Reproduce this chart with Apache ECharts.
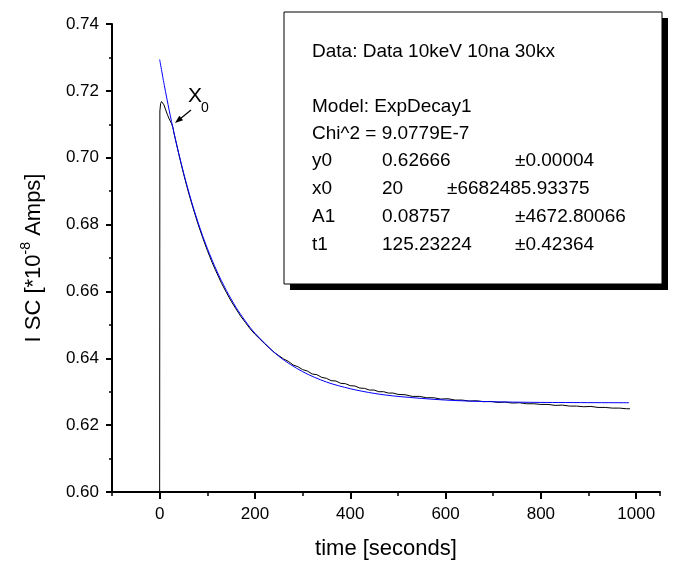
<!DOCTYPE html>
<html>
<head>
<meta charset="utf-8">
<script src="https://cdn.jsdelivr.net/npm/echarts@6/dist/echarts.min.js"></script>
<style>
  html,body{margin:0;padding:0;background:#fff;}
  #chart{width:674px;height:572px;}
</style>
</head>
<body>
<div id="chart"></div>
<script>
const dataTime = [0,0.5,2,4,6,9,12,16,20,25,28,30,35,40,45,50,60,70,80,90,100,110,120,130,140,150,160,170,180,190,200,
  210,220,230,240,250,260,270,280,290,300,310,320,330,340,350,360,370,380,390,400,410,420,430,440,450,460,470,480,490,500,
  515,530,545,560,575,590,605,620,635,650,665,680,695,710,725,740,755,770,785,800,815,830,845,860,875,890,905,920,935,950,965,980,987];
const dataValue = [0.600,0.7140,0.7162,0.7168,0.7167,0.7158,0.7146,0.7130,0.7116,0.7102,0.7090,0.7074,0.7043,0.7012,0.6982,0.6953,0.6899,0.6850,0.6804,0.6762,0.6723,0.6687,0.6655,0.6624,0.6597,0.6571,0.6548,0.6526,0.6507,0.6488,0.6472,
  0.6458,0.6444,0.6431,0.6418,0.6408,0.6398,0.6391,0.6380,0.6375,0.6366,0.6362,0.6353,0.6351,0.6343,0.6340,0.6333,0.6332,0.6325,0.6324,0.6318,0.6317,0.6311,0.6310,0.6305,0.6305,0.6300,0.6300,0.6296,0.6296,0.6292,
  0.6291,0.6286,0.6286,0.6282,0.6282,0.6278,0.6279,0.6275,0.6275,0.6272,0.6273,0.6270,0.6271,0.6268,0.6269,0.6266,0.6267,0.6264,0.6264,0.6262,0.6262,0.6259,0.6260,0.6257,0.6257,0.6255,0.6256,0.6253,0.6253,0.6251,0.6251,0.6249,0.6249];

// ExpDecay1 fit curve
const fitTime  = [0,10,20,30,40,50,60,70,80,90,100,120,140,160,180,200,250,300,350,400,450,500,600,700,800,985];
const fitValue = [0.7294,0.7215,0.7142,0.7075,0.7013,0.6956,0.6903,0.6854,0.6809,0.6767,0.6729,0.6661,0.6603,0.6553,0.6511,0.6475,0.6406,0.6360,0.6329,0.6309,0.6295,0.6286,0.6275,0.6270,0.6268,0.6267];

const xLabelValues = [0,200,400,600,800,1000];
const fitLines = [
  ['Data: Data 10keV 10na 30kx'],
  ['Model: ExpDecay1'],
  ['Chi^2 = 9.0779E-7'],
  ['y0','0.62666','±0.00004'],
  ['x0','20','±6682485.93375'],
  ['A1','0.08757','±4672.80066'],
  ['t1','125.23224','±0.42364']
];

const FONT = '"Liberation Sans", Arial, sans-serif';
const chart = echarts.init(document.getElementById('chart'));

// text box lines (pixel layout of the annotation)
const lineY = [52,107,134,161,189,217,245];
const colX = [312,382,515];
function boxText(str,x,y){
  return {type:'text',x:x,y:y,z:12,style:{text:str,font:'19px '+FONT,fill:'#000',textVerticalAlign:'middle',verticalAlign:'middle'}};
}
const boxTexts = [];
fitLines.forEach((row,i)=>{
  boxTexts.push(boxText(row[0],colX[0],lineY[i]));
  if(row.length>1){
    boxTexts.push(boxText(row[1],colX[1],lineY[i]));
    boxTexts.push(boxText(row[2],row[0]==='x0'?447:colX[2],lineY[i]));
  }
});

chart.setOption({
  animation:false,
  backgroundColor:'#fff',
  grid:{left:112,right:14,top:24,bottom:80},
  xAxis:[{
    type:'value',min:-100,max:1050,interval:100,
    name:'time [seconds]',nameLocation:'middle',nameGap:46,
    nameTextStyle:{fontFamily:FONT,fontSize:22,color:'#000'},
    axisLine:{show:true,onZero:false,lineStyle:{color:'#000',width:2}},
    axisTick:{show:true,length:4,lineStyle:{color:'#000',width:1.5}},
    axisLabel:{margin:14,fontFamily:FONT,fontSize:17,color:'#000',
      formatter:v=>xLabelValues.includes(Math.round(v))?String(Math.round(v)):''},
    splitLine:{show:false}
  },{
    type:'value',min:-100,max:1050,position:'bottom',
    axisLine:{show:false,onZero:false},
    axisTick:{show:true,length:7,customValues:xLabelValues,lineStyle:{color:'#000',width:2}},
    axisLabel:{show:false},
    splitLine:{show:false}
  }],
  yAxis:{
    type:'value',min:0.60,max:0.74,interval:0.02,
    name:'{n|I SC [*10}{s|-8}{n| Amps]}',nameLocation:'middle',nameGap:63,nameRotate:90,
    nameTextStyle:{fontFamily:FONT,fontSize:22,color:'#000',
      rich:{n:{fontFamily:FONT,fontSize:22,color:'#000',lineHeight:30},
            s:{fontFamily:FONT,fontSize:14,color:'#000',verticalAlign:'top'}}},
    axisLine:{show:true,onZero:false,lineStyle:{color:'#000',width:2}},
    axisTick:{show:true,length:6,lineStyle:{color:'#000',width:2}},
    minorTick:{show:true,splitNumber:2,length:3,lineStyle:{color:'#000',width:1.5}},
    axisLabel:{margin:13,fontFamily:FONT,fontSize:17,color:'#000',formatter:v=>v.toFixed(2)},
    splitLine:{show:false}
  },
  series:[{
    type:'line',showSymbol:false,symbol:'none',
    data:dataTime.map((t,i)=>[t,dataValue[i]]),
    lineStyle:{color:'#000',width:1},
    z:2
  },{
    type:'line',showSymbol:false,symbol:'none',smooth:0.3,
    data:fitTime.map((t,i)=>[t,fitValue[i]]),
    lineStyle:{color:'#0000ff',width:1},
    z:3
  }],
  graphic:[
    {type:'rect',shape:{x:290,y:18,width:378,height:272},style:{fill:'#000'},z:10},
    {type:'rect',shape:{x:284,y:12,width:378,height:272},style:{fill:'#fff',stroke:'#000',lineWidth:1},z:11},
    ...boxTexts,
    {type:'text',x:188,y:86,z:12,style:{text:'X',font:'21px '+FONT,fill:'#000'}},
    {type:'text',x:201,y:101,z:12,style:{text:'0',font:'14px '+FONT,fill:'#000'}},
    {type:'line',z:12,shape:{x1:191,y1:110,x2:180,y2:119},style:{stroke:'#000',lineWidth:1.2}},
    {type:'polygon',z:12,shape:{points:[[175,123],[183.1,120.3],[179.3,115.7]]},style:{fill:'#000'}}
  ]
});
</script>
</body>
</html>
